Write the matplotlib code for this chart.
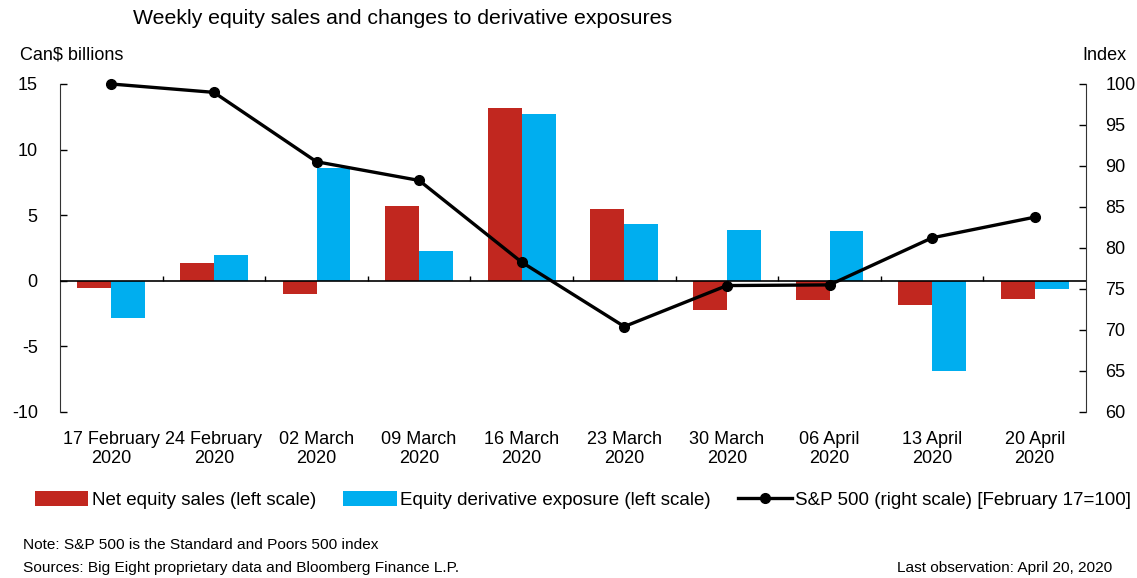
import numpy as np
import matplotlib
matplotlib.use('Agg')
import matplotlib.pyplot as plt

plt.rcParams['font.family'] = ['Liberation Sans', 'DejaVu Sans']
plt.rcParams['axes.unicode_minus'] = False

# weekly data
weeks = ['17 February\n2020', '24 February\n2020', '02 March\n2020', '09 March\n2020',
         '16 March\n2020', '23 March\n2020', '30 March\n2020', '06 April\n2020',
         '13 April\n2020', '20 April\n2020']
net_equity_sales = [-0.56, 1.32, -1.02, 5.70, 13.14, 5.46, -2.19, -1.48, -1.88, -1.38]
derivative_exposure = [-2.80, 1.94, 8.56, 2.27, 12.68, 4.35, 3.90, 3.82, -6.85, -0.64]
sp500 = [100.0, 98.98, 90.52, 88.24, 78.27, 70.42, 75.42, 75.50, 81.24, 83.76]

red = '#C1271F'
blue = '#00AEEF'

fig = plt.figure(figsize=(11.37, 5.78), dpi=100)
ax = fig.add_axes([60 / 1137, 1 - 412 / 578, (1086 - 60) / 1137, (412 - 84) / 578])
ax2 = ax.twinx()

x = np.arange(len(weeks))
w = 0.33
ax.bar(x - w / 2, net_equity_sales, w, color=red, label='Net equity sales (left scale)', zorder=2)
ax.bar(x + w / 2, derivative_exposure, w, color=blue, label='Equity derivative exposure (left scale)', zorder=2)
ax.axhline(0, color='black', lw=1.2, zorder=3)
# small category separators rising from the zero line
ax.vlines(x[:-1] + 0.5, 0, 0.4, color='black', lw=1, zorder=3)

ax.set_xlim(-0.5, len(weeks) - 0.5)
ax.set_ylim(-10, 15)
ax.set_yticks(range(-10, 16, 5))
ax.set_xticks(x)
ax.set_xticklabels(weeks, fontsize=13, linespacing=1.15)
ax.tick_params(axis='x', length=0, pad=14)
ax.tick_params(axis='y', direction='in', length=5, width=1, labelsize=13, pad=16)

ax2.plot(x, sp500, color='black', lw=2.4, marker='o', ms=7, clip_on=False,
         label='S&P 500 (right scale) [February 17=100]', zorder=4)
ax2.set_ylim(60, 100)
ax2.set_yticks(range(60, 101, 5))
ax2.tick_params(axis='y', direction='in', length=5, width=1, labelsize=13, pad=14)

for a in (ax, ax2):
    a.spines['top'].set_visible(False)
    a.spines['bottom'].set_visible(False)
ax.spines['right'].set_visible(False)
ax2.spines['left'].set_visible(False)
ax.spines['left'].set_color('#333333')
ax2.spines['right'].set_color('#333333')

fig.text(133 / 1137, 1 - 19 / 578, 'Weekly equity sales and changes to derivative exposures',
         fontsize=15.3, ha='left', va='center')
fig.text(20 / 1137, 1 - 55 / 578, 'Can$ billions', fontsize=13, ha='left', va='center')
fig.text(1127 / 1137, 1 - 55 / 578, 'Index', fontsize=13, ha='right', va='center')

h1, l1 = ax.get_legend_handles_labels()
h2, l2 = ax2.get_legend_handles_labels()
fig.legend(h1 + h2, l1 + l2, loc='center left', bbox_to_anchor=(27 / 1137, 1 - 500 / 578),
           ncol=3, frameon=False, fontsize=13.5, handlelength=2.85, handleheight=0.8,
           handletextpad=0.2, columnspacing=1.45, borderaxespad=0)

fig.text(23 / 1137, 1 - 545 / 578, 'Note: S&P 500 is the Standard and Poors 500 index',
         fontsize=11.1, ha='left', va='center')
fig.text(23 / 1137, 1 - 568 / 578, 'Sources: Big Eight proprietary data and Bloomberg Finance L.P.',
         fontsize=11.1, ha='left', va='center')
fig.text(1112 / 1137, 1 - 568 / 578, 'Last observation: April 20, 2020',
         fontsize=11.1, ha='right', va='center')

fig.savefig('out.png', dpi=100)
